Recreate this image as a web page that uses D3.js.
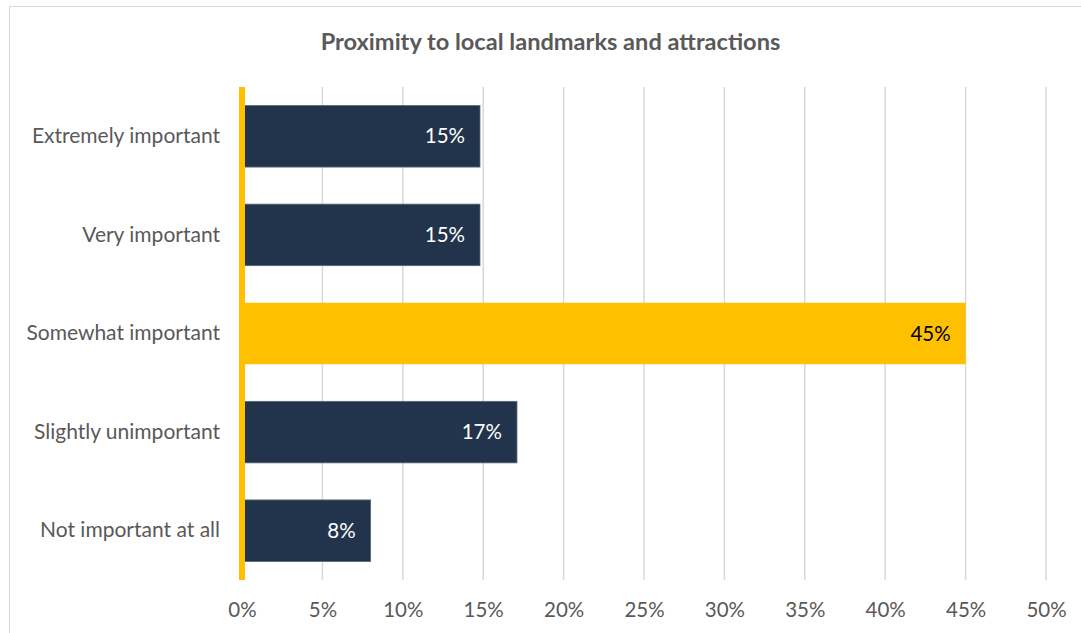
<!DOCTYPE html>
<html>
<head>
<meta charset="utf-8">
<script src="https://cdn.jsdelivr.net/npm/d3@7"></script>
<style>
  body { margin: 0; background: #fff; }
  svg text { font-family: Lato, "Open Sans", sans-serif; }
</style>
</head>
<body>
<div id="chart"></div>
<script>
// data
var categories = ['Extremely important', 'Very important', 'Somewhat important', 'Slightly unimportant', 'Not important at all'];
var values = [14.8, 14.8, 45, 17.1, 8.0];
var highlight = ['Somewhat important'];
var ticks = [0, 5, 10, 15, 20, 25, 30, 35, 40, 45, 50];
var title = 'Proximity to local landmarks and attractions';

var width = 1081, height = 633;
var margin = { top: 87, left: 242, right: 35, bottom: 53 };

var svg = d3.select('#chart').append('svg')
    .attr('width', width)
    .attr('height', height);

// chart frame
svg.append('rect')
    .attr('x', 9.5).attr('y', 6.5)
    .attr('width', width).attr('height', height)
    .attr('fill', '#fff')
    .attr('stroke', '#d9d9d9');

svg.append('text')
    .attr('x', 550.5).attr('y', 50)
    .attr('text-anchor', 'middle')
    .attr('font-size', 23.6).attr('font-weight', 'bold')
    .attr('fill', '#595959')
    .text(title);

var x = d3.scaleLinear().domain([0, 50]).range([margin.left, width - margin.right]);
var y = d3.scaleBand().domain(categories)
    .range([margin.top, height - margin.bottom])
    .paddingInner(0.376).paddingOuter(0.188);

// gridlines
svg.append('g')
    .selectAll('line')
    .data(ticks.slice(1))
    .enter().append('line')
        .attr('x1', function(d){ return x(d) }).attr('x2', function(d){ return x(d) })
        .attr('y1', margin.top).attr('y2', height - margin.bottom)
        .attr('stroke', '#d9d9d9').attr('stroke-width', 1.5);

// x axis labels
var xAxis = d3.axisBottom(x)
    .tickValues(ticks)
    .tickSize(0)
    .tickPadding(22)
    .tickFormat(function(d){ return d + '%' });

var gx = svg.append('g')
    .attr('transform', 'translate(0,' + (height - margin.bottom) + ')')
    .call(xAxis);
gx.select('.domain').remove();
gx.selectAll('text').attr('font-size', 20.5).attr('fill', '#595959');

// y axis labels
var yAxis = d3.axisLeft(y).tickSize(0).tickPadding(22);
var gy = svg.append('g')
    .attr('transform', 'translate(' + margin.left + ',0)')
    .call(yAxis);
gy.select('.domain').remove();
gy.selectAll('text').attr('font-size', 21).attr('fill', '#595959');

// bars
var bars = svg.append('g').selectAll('g')
    .data(categories)
    .enter().append('g');

bars.append('rect')
    .attr('x', x(0))
    .attr('y', function(d){ return y(d) })
    .attr('width', function(d, i){ return x(values[i]) - x(0) })
    .attr('height', y.bandwidth())
    .attr('fill', function(d){ return highlight.indexOf(d) >= 0 ? '#ffc000' : '#22344c' })
    .attr('stroke', function(d){ return highlight.indexOf(d) >= 0 ? 'none' : '#56667a' })
    .attr('stroke-width', 0.8);

bars.append('text')
    .attr('x', function(d, i){ return x(values[i]) - 15 })
    .attr('y', function(d){ return y(d) + y.bandwidth() / 2 })
    .attr('dy', '0.35em')
    .attr('text-anchor', 'end')
    .attr('font-size', 20.5)
    .attr('fill', function(d){ return highlight.indexOf(d) >= 0 ? '#000' : '#fff' })
    .text(function(d, i){ return Math.round(values[i]) + '%' });

// yellow category axis
svg.append('line')
    .attr('x1', x(0)).attr('x2', x(0))
    .attr('y1', margin.top).attr('y2', height - margin.bottom)
    .attr('stroke', '#ffc000').attr('stroke-width', 6);
</script>
</body>
</html>
